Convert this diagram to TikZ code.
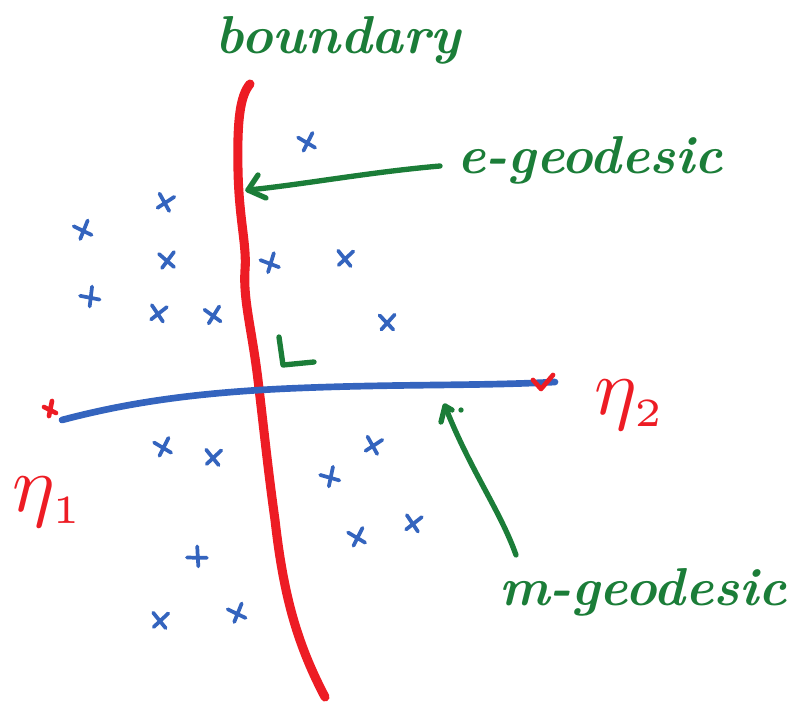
\documentclass[tikz,border=0pt]{standalone}
\usetikzlibrary{arrows.meta}
\definecolor{hred}{HTML}{ED1C24}
\definecolor{hblue}{HTML}{3464BE}
\definecolor{hgreen}{HTML}{1B7D38}
\tikzset{
  bnd/.style={hred,line width=6.8pt,line cap=round,line join=round},
  geo/.style={hblue,line width=5pt,line cap=round},
  pointer/.style={hgreen,line width=4pt,line cap=round,line join=round},
  lbl/.style={hgreen,font=\fontsize{40}{44}\selectfont\bfseries\itshape,inner sep=0pt},
  etalbl/.style={hred,scale=6,inner sep=0pt},
  crossmark/.style={hblue,line width=2.8pt,line cap=round},
  tickmark/.style={hred,line width=3.5pt,line cap=round,line join=round}
}
\begin{document}
\begin{tikzpicture}[x=0.75pt,y=-0.75pt]
\useasboundingbox (0,0) rectangle (804,707);
% boundary curve
\coordinate (btop) at (250,84);
\coordinate (bbot) at (325,697);
\draw[bnd] (btop) .. controls (240,96) and (237,120) .. (238,170)
  .. controls (239,220) and (247,245) .. (245,270)
  .. controls (243,300) and (252,330) .. (258,380)
  .. controls (264,430) and (268,470) .. (275,520)
  .. controls (283,590) and (295,640) .. (bbot);
% geodesic line
\coordinate (ga) at (62,420);
\coordinate (gb) at (555,382);
\draw[geo] (ga) .. controls (130,402) and (200,392) .. (300,388)
  .. controls (400,384) and (480,386) .. (gb);
% end ticks
\draw[tickmark] (44,407) -- (56,413) (52,401) -- (49,416);
\draw[tickmark] (533,380) -- (541,389) -- (553,375);
% labels
\node[lbl] (boundary) at (338,40) {boundary};
\node[lbl] (egeo) at (590,160) {e-geodesic};
\node[lbl] (mgeo) at (643,592) {m-geodesic};
\node[etalbl] (eta1) at (48,502) {$\eta_{\scriptscriptstyle 1}$};
\node[etalbl] (eta2) at (630,405) {$\eta_{\scriptscriptstyle 2}$};
% e-geodesic pointer
\coordinate (etip) at (248,190);
\coordinate (etail) at (440,166);
\draw[pointer] (etail) .. controls (370,172) and (300,185) .. (etip);
\draw[pointer] (258,175) -- (etip) -- (266,198);
% m-geodesic pointer
\coordinate (mtip) at (445,406);
\coordinate (mtail) at (516,555);
\draw[pointer] (mtail) .. controls (500,510) and (470,470) .. (mtip);
\draw[pointer] (441,422) -- (mtip) -- (452,410);
\fill[hgreen] (461,410) circle (2pt);
% right angle mark
\coordinate (ra1) at (279,337);
\coordinate (ra2) at (283,365);
\coordinate (ra3) at (314,362);
\draw[pointer] (ra1) -- (ra2) -- (ra3);
% blue crosses
\foreach \x/\y/\r in {307/142/10,165/202/-20,83/230/15,167/260/0,270/263/20,345/258/-10,90/297/30,158/313/-15,213/315/5,387/322/-5,
  163/447/10,213/457/-10,330/477/25,373/445/-20,197/557/40,357/537/10,413/523/-15,160/620/-10,237/613/15}
  \draw[crossmark,rotate around={\r:(\x,\y)}] (\x-8,\y-6) -- (\x+7,\y+7) (\x+7,\y-8) -- (\x-5,\y+8);
\end{tikzpicture}
\end{document}
